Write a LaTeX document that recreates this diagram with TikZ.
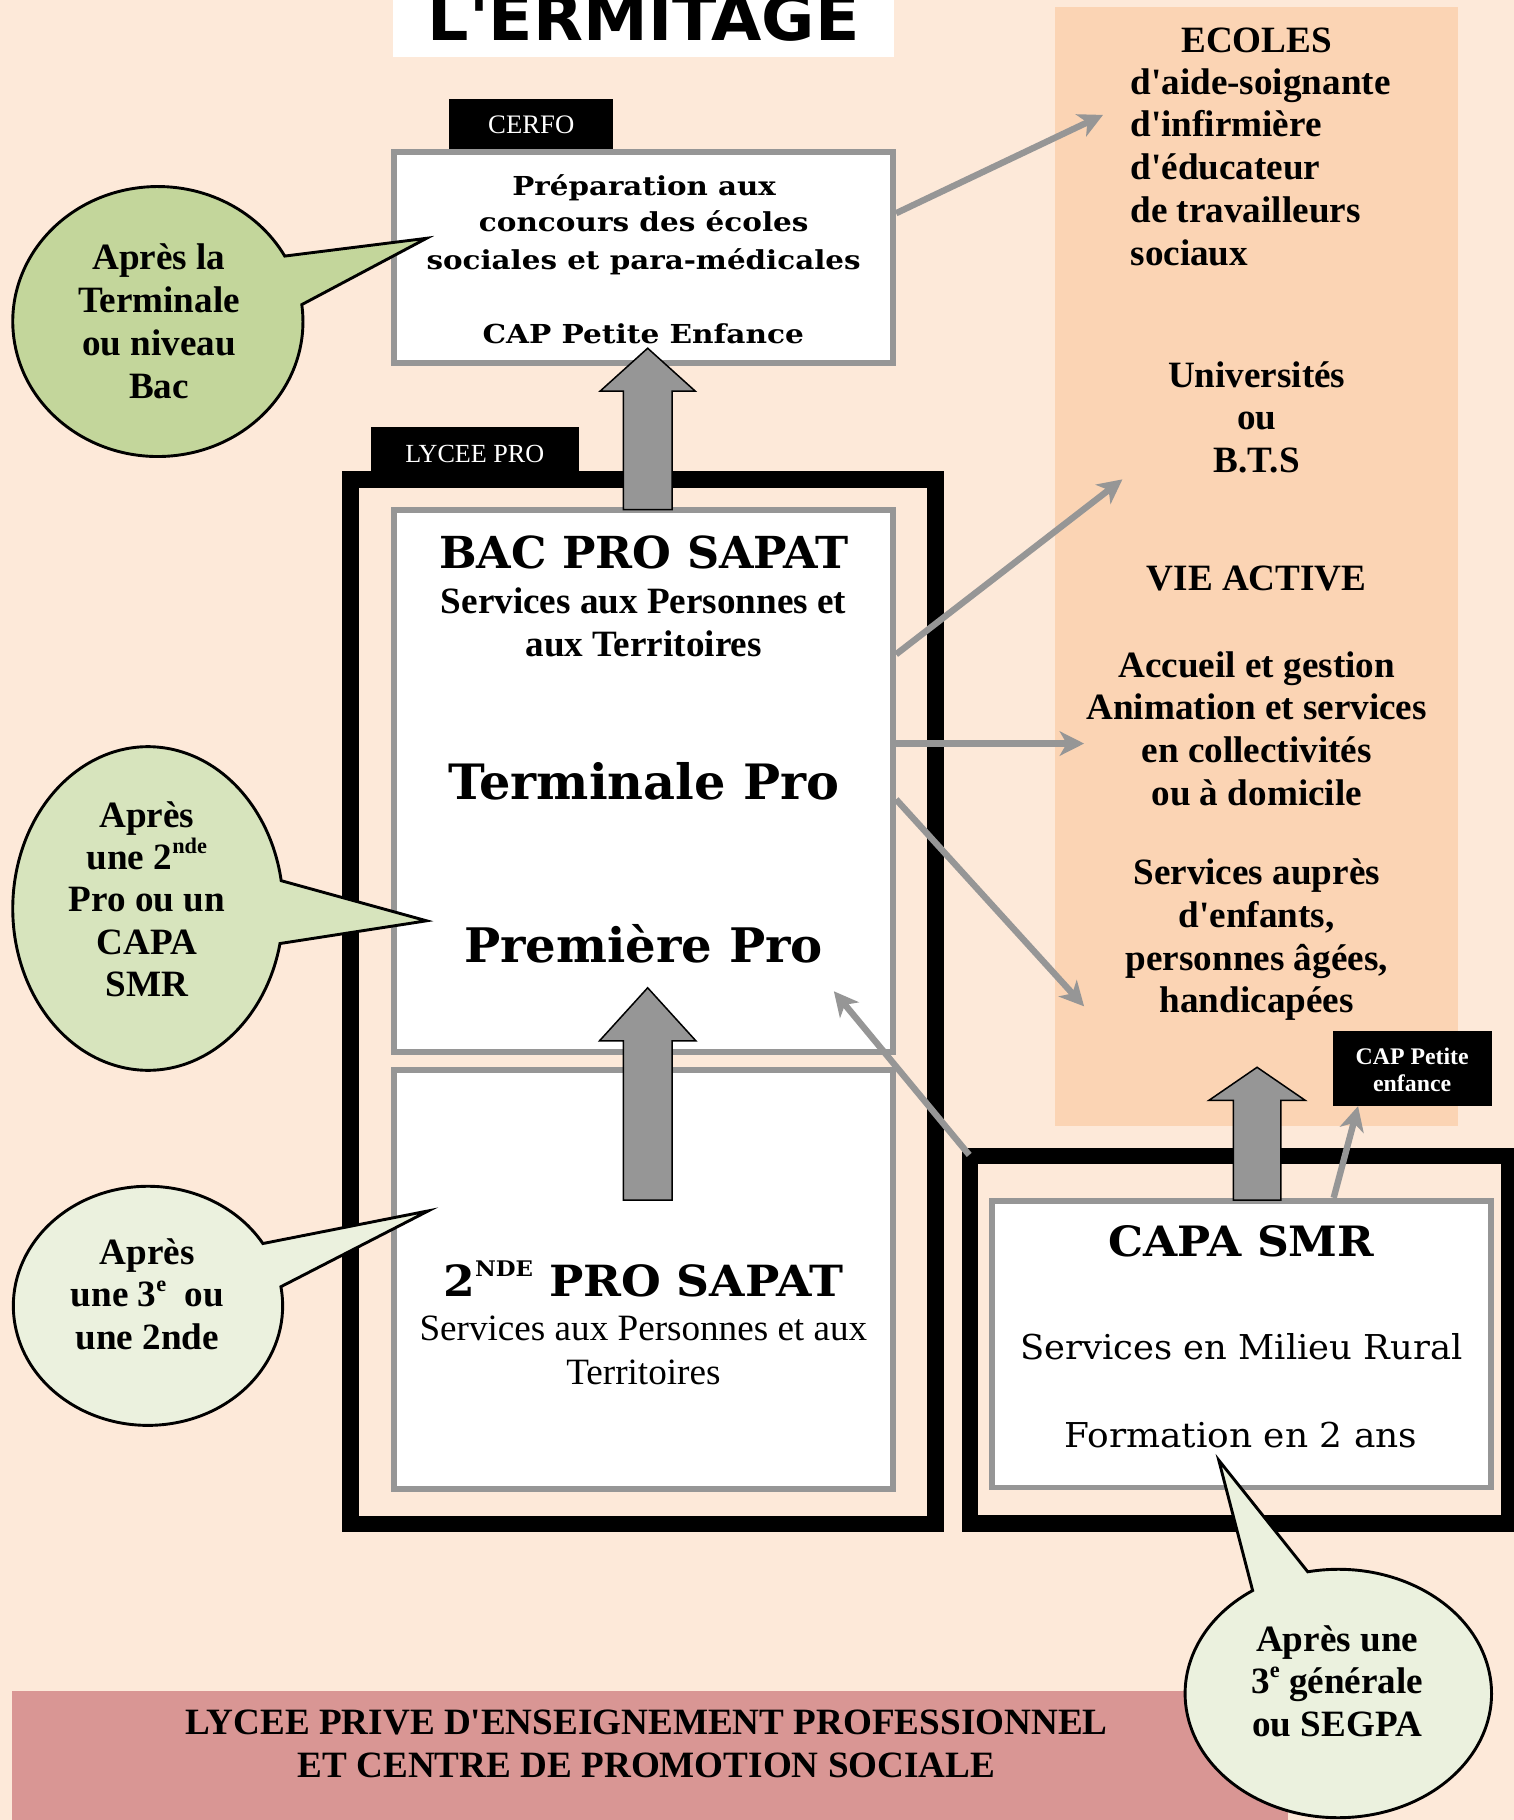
\documentclass[tikz,border=0pt]{standalone}
\usepackage{fontspec}
\usepackage{graphicx}
\setmainfont{Liberation Serif}[Ligatures=TeXOff]
\newfontfamily\bkfont{DejaVu Serif}[Ligatures=TeXOff]
\newfontfamily\ttlfont{DejaVu Sans}[Ligatures=TeXOff]
\usetikzlibrary{arrows.meta,calc}
\definecolor{bg}{HTML}{FDE9D9}
\definecolor{panel}{HTML}{FBD4B4}
\definecolor{grayline}{HTML}{969696}
\definecolor{greenA}{HTML}{C3D69B}
\definecolor{greenB}{HTML}{D7E4BD}
\definecolor{greenC}{HTML}{EBF1DE}
\definecolor{band}{HTML}{D99694}
\newcommand\fs[1]{\fontsize{#1}{#1}\selectfont}
\newcommand\tb{\bfseries\fs{32}}
\newcommand\supx[1]{\raisebox{0.42em}{\scalebox{0.6}{#1}}}
\newcommand\supy[1]{\raisebox{0.46em}{\scalebox{0.5}{#1}}}
\newcommand\fitw[2]{\resizebox{#1pt}{\height}{#2}}
\newcommand\blockarr[5]{%
  \draw[blockarrow] (#1) -- ($(#1)+(#3,#4)$) -- ($(#1)+(#5,#4)$) -- ($(#2)+(#5,0)$)
    -- ($(#2)+(-#5,0)$) -- ($(#1)+(-#5,#4)$) -- ($(#1)+(-#3,#4)$) -- cycle;}
\begin{document}
\begin{tikzpicture}[x=1pt,y=-1pt,
  txt/.style={inner sep=0pt, outer sep=0pt, anchor=base},
  graybox/.style={draw=grayline, line width=5pt, fill=white, inner sep=0pt},
  blackbox/.style={draw=black, line width=14pt, inner sep=0pt},
  labelbox/.style={fill=black, inner sep=0pt},
  thinarrow/.style={draw=grayline, line width=5.5pt, -{Stealth[length=21pt,width=21pt,inset=6pt]}},
  blockarrow/.style={fill=grayline, draw=black, line width=1.3pt, line join=miter},
  callout/.style={draw=black, line width=2.5pt, line join=miter},
]
\useasboundingbox (0,0) rectangle (1304,1568);
\fill[bg] (0,0) rectangle (1304,1568);

% right panel
\node[fill=panel, inner sep=0pt, minimum width=348pt, minimum height=964pt] (panel) at (1082.5,488) {};
% title
\node[fill=white, inner sep=0pt, minimum width=431pt, minimum height=60pt] (titlebox) at (554.5,18.8) {};
\node[txt] (title) at (554.5,34.5) {\fitw{372}{\ttlfont\bfseries\fs{55}L'ERMITAGE}};

% bottom band
\node[fill=band, inner sep=0pt, minimum width=1100pt, minimum height=115pt] (band) at (560,1514.5) {};
\node[txt] (f1) at (557,1494) {\tb LYCEE PRIVE D'ENSEIGNEMENT PROFESSIONNEL};
\node[txt] (f2) at (557,1531) {\tb ET CENTRE DE PROMOTION SOCIALE};

% right panel texts
\node[txt] (r1) at (1082.7,45) {\tb ECOLES};
\node[txt, anchor=base west] (r2) at (974,81) {\tb d'aide-soignante};
\node[txt, anchor=base west] (r3) at (974,118) {\tb d'infirmière};
\node[txt, anchor=base west] (r4) at (974,155) {\tb d'éducateur};
\node[txt, anchor=base west] (r5) at (974,192) {\tb de travailleurs};
\node[txt, anchor=base west] (r6) at (974,229) {\tb sociaux};
\node[txt] (r7) at (1082.7,334) {\tb Universités};
\node[txt] (r8) at (1082.7,370) {\tb ou};
\node[txt] (r9) at (1082.7,407) {\tb B.T.S};
\node[txt] (r10) at (1082.7,509) {\tb VIE ACTIVE};
\node[txt] (r11) at (1082.7,584) {\tb Accueil et gestion};
\node[txt] (r12) at (1082.7,620) {\tb Animation et services};
\node[txt] (r13) at (1082.7,657) {\tb en collectivités};
\node[txt] (r14) at (1082.7,694) {\tb ou à domicile};
\node[txt] (r15) at (1082.7,762) {\tb Services auprès};
\node[txt] (r16) at (1082.7,799) {\tb d'enfants,};
\node[txt] (r17) at (1082.7,836) {\tb personnes âgées,};
\node[txt] (r18) at (1082.7,872) {\tb handicapées};

% labels (behind boxes' borders)
\node[labelbox, minimum width=141.4pt, minimum height=47pt] (cerfolab) at (457.7,108.5) {};
\node[txt, text=white] (cerfotxt) at (457.7,115) {\fs{23}CERFO};
\node[labelbox, minimum width=179pt, minimum height=46pt] (lyclab) at (409.5,390.6) {};
\node[txt, text=white] (lyctxt) at (409,398.4) {\fs{22.5}LYCEE PRO};

% CERFO box
\node[graybox, minimum width=430pt, minimum height=181.5pt] (cerfo) at (554.5,221.8) {};
\node[txt] (c1) at (555,168) {\fitw{227}{\bkfont\bfseries\fs{22.5}Préparation aux}};
\node[txt] (c2) at (554.6,199.5) {\fitw{284}{\bkfont\bfseries\fs{22.5}concours des écoles}};
\node[txt] (c3) at (554.5,232) {\fitw{374}{\bkfont\bfseries\fs{22.5}sociales et para-médicales}};
\node[txt] (c4) at (554.2,295.6) {\fitw{277}{\bkfont\bfseries\fs{22.5}CAP Petite Enfance}};

% LYCEE PRO
\node[blackbox, minimum width=504pt, minimum height=900pt] (lycee) at (554,863) {};
\node[graybox, minimum width=430pt, minimum height=467pt] (bac) at (554.5,673) {};
\node[txt] (b1) at (555,490) {\fitw{353}{\bkfont\bfseries\fs{38}BAC PRO SAPAT}};
\node[txt] (b2) at (554.5,528.3) {\tb Services aux Personnes et};
\node[txt] (b3) at (554.5,565.6) {\tb aux Territoires};
\node[txt] (b4) at (554.6,688.7) {\fitw{336.8}{\bkfont\bfseries\fs{42}Terminale Pro}};
\node[txt] (b5) at (554.5,829) {\fitw{309}{\bkfont\bfseries\fs{41}Première Pro}};

\node[graybox, minimum width=430pt, minimum height=361pt] (seconde) at (554.5,1102) {};
\node[txt] (s1) at (554.2,1116.6) {\fitw{344.5}{\bkfont\bfseries\fs{37}2\supy{NDE} PRO SAPAT}};
\node[txt] (s2) at (554.3,1155) {\fs{32}Services aux Personnes et aux};
\node[txt] (s3) at (554.3,1193) {\fs{32}Territoires};

% CAPA
\node[blackbox, minimum width=465pt, minimum height=316.5pt] (capaout) at (1068,1154.25) {};
\node[graybox, minimum width=430pt, minimum height=247pt] (capa) at (1069.5,1158) {};
\node[txt] (m1) at (1069.5,1082.5) {\fitw{229}{\bkfont\bfseries\fs{36}CAPA SMR}};
\node[txt] (m2) at (1069.5,1171) {\fitw{381}{\bkfont\fs{29.5}Services en Milieu Rural}};
\node[txt] (m3) at (1069,1247) {\fitw{304}{\bkfont\fs{29.5}Formation en 2 ans}};

\node[labelbox, minimum width=137pt, minimum height=65pt] (caplab) at (1216.5,920.5) {};
\node[txt, text=white] (captxt1) at (1216.6,917) {\bfseries\fs{20.5}CAP Petite};
\node[txt, text=white] (captxt2) at (1216.6,940) {\bfseries\fs{20.5}enfance};

% thin arrows
\coordinate (aS) at (772,183.7);  \coordinate (aE) at (950.3,99);
\coordinate (bS) at (772,563.7);  \coordinate (bE) at (967,413);
\coordinate (cS) at (772,640.6);  \coordinate (cE) at (934,640.6);
\coordinate (dS) at (772,688.7);  \coordinate (dE) at (934,867);
\coordinate (eS) at (835,995);    \coordinate (eE) at (718.4,854);
\coordinate (fS) at (1149,1032);  \coordinate (fE) at (1170,953);
\draw[thinarrow] (aS) -- (aE);
\draw[thinarrow] (bS) -- (bE);
\draw[thinarrow] (cS) -- (cE);
\draw[thinarrow] (dS) -- (dE);
\draw[thinarrow] (eS) -- (eE);
\draw[thinarrow] (fS) -- (fE);

% block arrows
\coordinate (A1t) at (558,300);   \coordinate (A1b) at (558,439);
\coordinate (A2t) at (558,851);   \coordinate (A2b) at (558,1034);
\coordinate (A3t) at (1083,919.5); \coordinate (A3b) at (1083,1034);
\blockarr{A1t}{A1b}{41}{37}{21}
\blockarr{A2t}{A2b}{41.5}{45.7}{21}
\blockarr{A3t}{A3b}{41.5}{28.5}{20.5}

% callouts
\coordinate (k1c) at (136,277);     \coordinate (k1t) at (367.5,205.3);
\coordinate (k2c) at (127.5,782.7); \coordinate (k2t) at (367.5,793.3);
\coordinate (k3c) at (127.5,1125);  \coordinate (k3t) at (369,1043.2);
\coordinate (k4c) at (1153,1459);   \coordinate (k4t) at (1050,1258);
\draw[callout, fill=greenA] ($(k1c)+(7.2:125pt and 116.3pt)$) arc[start angle=7.2, end angle=-331, x radius=125pt, y radius=116.3pt] -- (k1t) -- cycle;
\draw[callout, fill=greenB] ($(k2c)+(-12.5:116.5pt and 139.4pt)$) arc[start angle=-12.5, end angle=-350.1, x radius=116.5pt, y radius=139.4pt] -- (k2t) -- cycle;
\draw[callout, fill=greenC] ($(k3c)+(9.2:116pt and 103pt)$) arc[start angle=9.2, end angle=-328.6, x radius=116pt, y radius=103pt] -- (k3t) -- cycle;
\draw[callout, fill=greenC] ($(k4c)+(101.5:132pt and 107pt)$) arc[start angle=101.5, end angle=-236, x radius=132pt, y radius=107pt] -- (k4t) -- cycle;

\node[txt] (k1a) at (137,232) {\tb Après la};
\node[txt] (k1b) at (137,269) {\tb Terminale};
\node[txt] (k1d) at (137,306) {\tb ou niveau};
\node[txt] (k1e) at (137,343) {\tb Bac};

\node[txt] (k2a) at (126.5,712.5) {\tb Après};
\node[txt] (k2b) at (126.5,749) {\tb une 2\supx{nde}};
\node[txt] (k2d) at (126.5,785.5) {\tb Pro ou un};
\node[txt] (k2e) at (126.5,822) {\tb CAPA};
\node[txt] (k2f) at (126.5,858.6) {\tb SMR};

\node[txt] (k3a) at (127,1089.3) {\tb Après};
\node[txt] (k3b) at (127,1125.8) {\tb une 3\supx{e}\ \ ou};
\node[txt] (k3d) at (127,1162.4) {\tb une 2nde};

\node[txt] (k4a) at (1152,1422.6) {\tb Après une};
\node[txt] (k4b) at (1152,1459) {\tb 3\supx{e} générale};
\node[txt] (k4d) at (1152,1496.4) {\tb ou SEGPA};
\end{tikzpicture}
\end{document}
